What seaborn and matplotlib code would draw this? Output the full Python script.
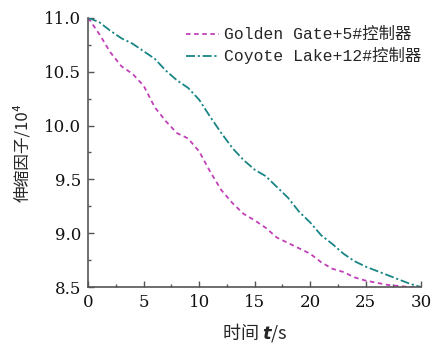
import numpy as np
import pandas as pd
import seaborn as sns
import matplotlib
matplotlib.use("Agg")
import matplotlib.pyplot as plt
from matplotlib.ticker import MultipleLocator
from matplotlib.lines import Line2D

t = list(range(0, 31))
golden = [11.0, 10.85, 10.68, 10.55, 10.48, 10.37, 10.17, 10.04, 9.93, 9.88,
          9.76, 9.57, 9.40, 9.28, 9.18, 9.12, 9.05, 8.96, 8.91, 8.86,
          8.81, 8.73, 8.67, 8.64, 8.59, 8.56, 8.54, 8.52, 8.51, 8.50, 8.50]
coyote = [11.0, 10.96, 10.88, 10.81, 10.76, 10.69, 10.62, 10.51, 10.42, 10.35,
          10.24, 10.08, 9.93, 9.79, 9.68, 9.59, 9.53, 9.43, 9.33, 9.20,
          9.10, 8.98, 8.90, 8.81, 8.74, 8.69, 8.65, 8.61, 8.57, 8.53, 8.50]
series_names = ["Golden Gate+5#控制器", "Coyote Lake+12#控制器"]
ytick_vals = [8.5, 9.0, 9.5, 10.0, 10.5, 11.0]
ytick_labels = ["8.5", "9.0", "9.5", "10.0", "10.5", "11.0"]
colors = ["#C040B8", "#1A8585"]

sns.set_theme(style="white")
plt.rcParams['font.family'] = ['DejaVu Serif', 'Noto Sans CJK SC', 'DejaVu Sans']

df = pd.DataFrame({"t": t * 2, "v": golden + coyote,
                   "s": [series_names[0]] * len(t) + [series_names[1]] * len(t)})

fig = plt.figure(figsize=(4.32, 3.43), dpi=100)
ax = fig.add_axes([0.204, 0.163, 0.771, 0.785])
sns.lineplot(data=df, x="t", y="v", hue="s", palette=colors, ax=ax, legend=False,
             linewidth=1.3)
lines = ax.get_lines()
lines[0].set_dashes([2.5, 2.0])
lines[1].set_dashes([5, 1.5, 1.2, 1.5])

ax.set_xlim(0, 30)
ax.set_ylim(8.5, 11.0)
ax.xaxis.set_major_locator(MultipleLocator(5))
ax.xaxis.set_minor_locator(MultipleLocator(2.5))
ax.yaxis.set_minor_locator(MultipleLocator(0.25))
ax.set_yticks(ytick_vals)
ax.set_yticklabels(ytick_labels)
for sp in ["top", "right"]:
    ax.spines[sp].set_visible(False)
for sp in ["left", "bottom"]:
    ax.spines[sp].set_color("#555555")
    ax.spines[sp].set_linewidth(1.2)
ax.tick_params(which="both", direction="in", color="#555555", width=1.0,
               bottom=True, left=True, top=False, right=False)
ax.tick_params(which="major", length=4, labelsize=12, pad=5, labelcolor="#111111")
ax.tick_params(which="minor", length=2.5)

ax.set_xlabel("时间 $\\mathbfit{t}$/s", fontsize=13, labelpad=7,
              family=['Noto Sans CJK SC', 'DejaVu Serif'])
ax.set_ylabel("伸缩因子/10⁴", fontsize=12, labelpad=9,
              family=['Noto Sans CJK SC', 'DejaVu Sans'])

handles = [Line2D([], [], color=colors[0], lw=1.3, dashes=[2.5, 2.0]),
           Line2D([], [], color=colors[1], lw=1.3, dashes=[5, 1.5, 1.2, 1.5])]
leg = ax.legend(handles, series_names,
                loc="upper right", bbox_to_anchor=(1.045, 1.02), frameon=False,
                handlelength=2.0, handletextpad=0.3, labelspacing=0.3,
                prop={'family': ['Liberation Mono', 'Noto Sans CJK SC'], 'size': 11.8})

fig.savefig("out.png", dpi=100)
